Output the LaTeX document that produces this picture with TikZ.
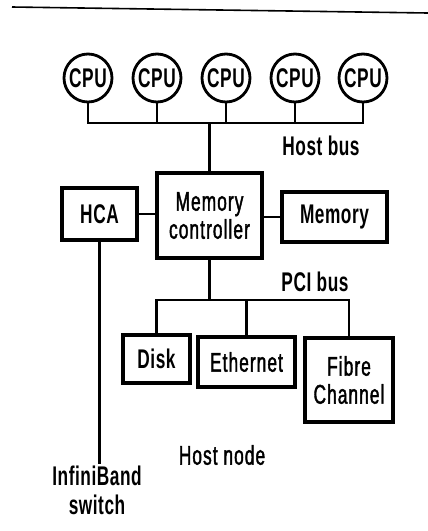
\documentclass[tikz,border=0pt]{standalone}
\usepackage{fontspec}
\setmainfont{Liberation Sans}[FakeStretch=0.64, LetterSpace=2]
\newfontfamily\medfont{Liberation Sans}[FakeStretch=0.64, FakeBold=1.5, LetterSpace=4]
\begin{document}
\begin{tikzpicture}[x=1pt,y=-1pt,
  txt/.style={font=\fontsize{27}{28}\selectfont\medfont, align=center},
  btxt/.style={font=\fontsize{27}{29}\selectfont\bfseries, align=center},
  box/.style={draw, line width=3.2pt, inner sep=0pt},
  cpu/.style={draw, circle, line width=2.8pt, minimum size=48pt, inner sep=0pt, btxt},
  wire/.style={line width=2.4pt}]
\useasboundingbox (0,0) rectangle (428,531);
% top rule
\coordinate (tl) at (12,7);
\coordinate (tr) at (428,13);
\draw[line width=1.6pt] (tl) -- (tr);
% CPUs
\node[cpu] (c1) at (88,78) {CPU};
\node[cpu] (c2) at (157,78) {CPU};
\node[cpu] (c3) at (226,78) {CPU};
\node[cpu] (c4) at (295,78) {CPU};
\node[cpu] (c5) at (363,78) {CPU};
\coordinate (busy) at (0,123);
\coordinate (pcy) at (0,300);
% boxes
\node[box, btxt, minimum width=75pt, minimum height=52pt] (hca) at (99.5,214) {HCA};
\node[box, txt, minimum width=105pt, minimum height=85pt] (mc) at (209.5,215.5) {Memory\\controller};
\node[box, btxt, minimum width=105pt, minimum height=50pt] (mem) at (334.5,217) {Memory};
\node[box, btxt, line width=3.6pt, minimum width=67pt, minimum height=48pt] (disk) at (156.5,359) {Disk};
\node[box, txt, line width=3.6pt, minimum width=97pt, minimum height=50pt] (eth) at (246.5,362) {Ethernet};
\node[box, txt, line width=3.6pt, minimum width=88pt, minimum height=84pt] (fc) at (349,380) {Fibre\\Channel};
% labels
\node[btxt] (hostbus) at (321,146) {Host bus};
\node[btxt] (pcibus) at (315,282) {PCI bus};
\node[txt] (hostnode) at (222,455) {Host node};
\node[btxt, anchor=north, inner sep=2pt] (ibs) at (97,464) {InfiniBand\\switch};
% host bus
\draw[wire] (c1.south) -- (c1.south |- busy) -- (c5.south |- busy) -- (c5.south);
\draw[wire] (c2.south) -- (c2.south |- busy);
\draw[wire] (c3.south) -- (c3.south |- busy);
\draw[wire] (c4.south) -- (c4.south |- busy);
\draw[wire] (mc.north) -- (mc.north |- busy);
% side links
\draw[wire] (hca.east) -- (hca.east -| mc.west);
\draw[wire] (mem.west -| mc.east) -- (mem.west);
\draw[wire] (hca.south) -- (hca.south |- ibs.north);
% PCI bus
\draw[wire] (mc.south) -- (mc.south |- pcy);
\draw[wire] (disk.north) -- (disk.north |- pcy) -- (fc.north |- pcy) -- (fc.north);
\draw[wire] (eth.north) -- (eth.north |- pcy);
\end{tikzpicture}
\end{document}
